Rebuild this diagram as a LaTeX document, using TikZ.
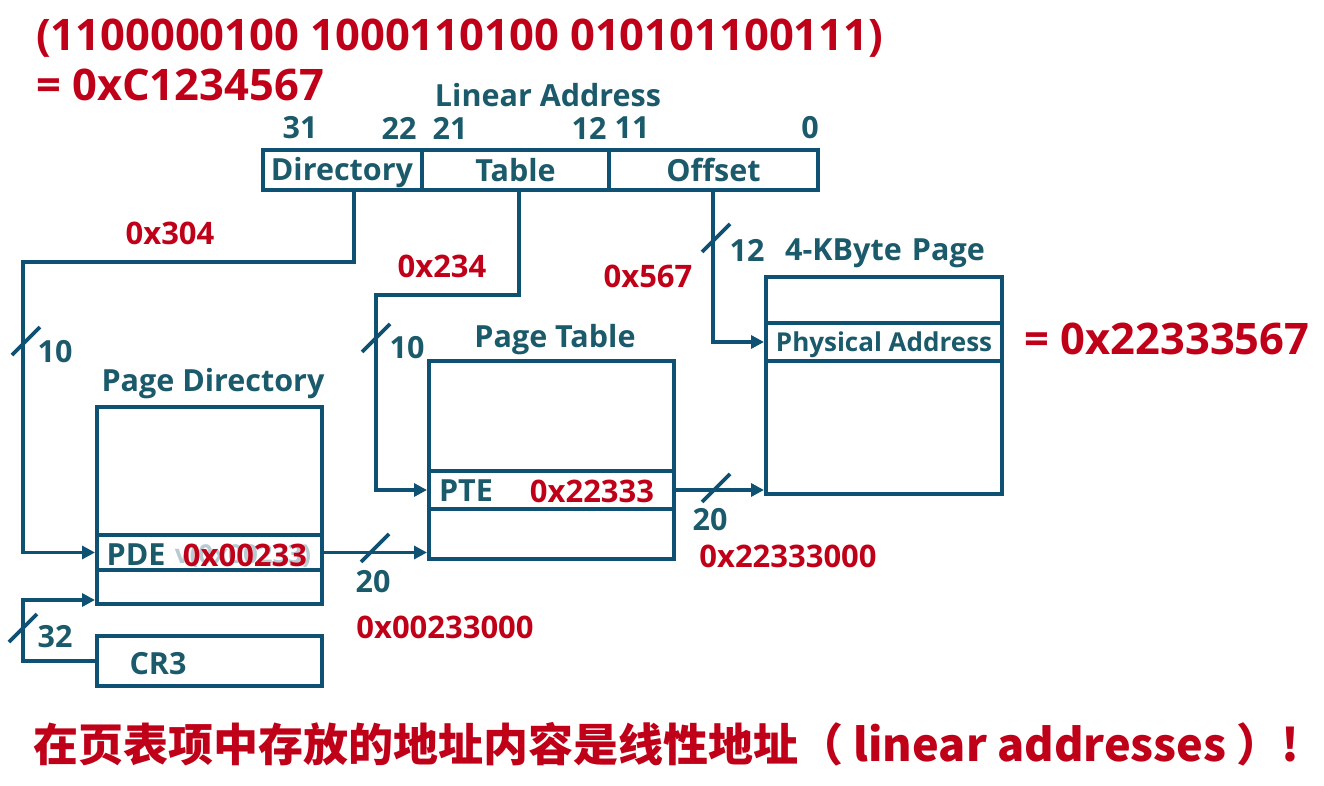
\documentclass[tikz,border=0pt]{standalone}
\usepackage{fontspec}
\setmainfont{Open Sans}
\newfontfamily\cjk{Noto Sans CJK SC}
\usetikzlibrary{arrows.meta}
\definecolor{ln}{HTML}{0E5173}
\definecolor{tx}{HTML}{1B5A6B}
\definecolor{rd}{HTML}{C00018}
\definecolor{gh}{HTML}{B8CBD2}
\begin{document}
\begin{tikzpicture}[x=1pt,y=-1pt,
  box/.style={draw=ln,line width=3.8pt,rectangle,inner sep=0,outer sep=0,anchor=north west},
  wire/.style={draw=ln,line width=3.8pt},
  arr/.style={wire,-{Triangle[length=13pt,width=13pt]},shorten >=2pt},
  lbl/.style={text=tx,font=\bfseries\fontsize{30.5}{34}\selectfont,inner sep=0},
  sml/.style={text=tx,font=\bfseries\fontsize{26}{30}\selectfont,inner sep=0},
  red/.style={text=rd,font=\bfseries\fontsize{31}{34}\selectfont,inner sep=0},
  big/.style={text=rd,font=\bfseries\fontsize{43.5}{48}\selectfont,inner sep=0}
]
\useasboundingbox[fill=white] (0,0) rectangle (1324,786);

% title lines
\node[big,anchor=west] (t1) at (36,38) {(1100000100 1000110100 010101100111)};
\node[big,anchor=west] (t2) at (36,85) {= 0xC1234567};

% linear address
\node[lbl] (lal) at (548,95) {Linear Address};
\node[lbl] (b31) at (300,128) {31};
\node[lbl] (b22) at (399,128) {22};
\node[lbl] (b21) at (450,128) {21};
\node[lbl] (b12) at (589,128) {12};
\node[lbl] (b11) at (632,128) {11};
\node[lbl] (b0) at (810,128) {0};

\node[box,minimum width=159,minimum height=40] (dir) at (263,150) {};
\node[box,minimum width=187,minimum height=40] (tab) at (422,150) {};
\node[box,minimum width=209,minimum height=40] (off) at (609,150) {};
\node[lbl] (dirt) at (342,173) {Directory};
\node[lbl] (tabt) at (tab.center) {Table};
\node[lbl] (offt) at (off.center) {Offset};

% page directory
\node[lbl] (pdl) at (213,384) {Page Directory};
\node[box,minimum width=225,minimum height=197] (pd) at (97,407) {};
\node[box,minimum width=225,minimum height=35] (pde) at (97,535) {};
\node[text=gh,font=\bfseries\fontsize{26}{30}\selectfont,inner sep=0] (ghost) at (243,556) {v(0x00233)};
\node[lbl] (pdet) at (136,555) {PDE};
\node[red] (pdev) at (245,555) {0x00233};

% CR3
\node[box,minimum width=225,minimum height=50] (cr3) at (97,636) {};
\node[lbl] (cr3t) at (158,664) {CR3};

% page table
\node[lbl] (ptl) at (555,340) {Page Table};
\node[box,minimum width=245,minimum height=198] (pt) at (429,361) {};
\node[box,minimum width=245,minimum height=38] (pte) at (429,471) {};
\node[lbl] (ptet) at (466,491) {PTE};
\node[red] (ptev) at (592,491) {0x22333};

% page
\node[lbl] (pgl) at (885,253) {4-KByte\,\,Page};
\node[box,minimum width=236,minimum height=217] (pg) at (766,277) {};
\node[box,minimum width=236,minimum height=38] (pa) at (766,323) {};
\node[sml] (pat) at (884,345) {Physical Address};
\node[big] (res) at (1167,339) {= 0x22333567};

% connectors
\coordinate (d0) at (354,190);
\coordinate (d1) at (23,262);
\draw[arr] (d0) |- (d1) |- (pde.west);
\coordinate (e0) at (519,190);
\coordinate (e1) at (376,295);
\draw[arr] (e0) |- (e1) |- (pte.west);
\coordinate (f0) at (713,190);
\draw[arr] (f0) |- (pa.west);
\draw[arr] (pde.east) -- (pde.east -| pt.west);
\draw[arr] (pte.east) -- (pte.east -| pg.west);
\coordinate (c3) at (23,600);
\draw[arr] (cr3.west) -| (c3) -- (c3 -| pd.west);

% slashes
\draw[wire] (26,341) +(-14,14) -- +(14,-14);
\draw[wire] (376,338) +(-14,14) -- +(14,-14);
\draw[wire] (375,548) +(-14,14) -- +(14,-14);
\draw[wire] (716,488) +(-14,14) -- +(14,-14);
\draw[wire] (716,238) +(-14,14) -- +(14,-14);
\draw[wire] (23,628) +(-14,14) -- +(14,-14);

\node[lbl] (n10a) at (55,352) {10};
\node[lbl] (n10b) at (407,348) {10};
\node[lbl] (n20a) at (373,582) {20};
\node[lbl] (n20b) at (710,520) {20};
\node[lbl] (n12) at (747,250) {12};
\node[lbl] (n32) at (55,637) {32};

% red values
\node[red] (v304) at (170,233) {0x304};
\node[red] (v234) at (442,266) {0x234};
\node[red] (v567) at (648,276) {0x567};
\node[red] (vpt) at (445,627) {0x00233000};
\node[red] (vpg) at (788,556) {0x22333000};

% bottom note
\node[text=rd,font=\cjk\bfseries\fontsize{45}{50}\selectfont,inner sep=0,anchor=west] (note) at (33,744) {在页表项中存放的地址内容是线性地址（ linear addresses ）!};
\end{tikzpicture}
\end{document}
